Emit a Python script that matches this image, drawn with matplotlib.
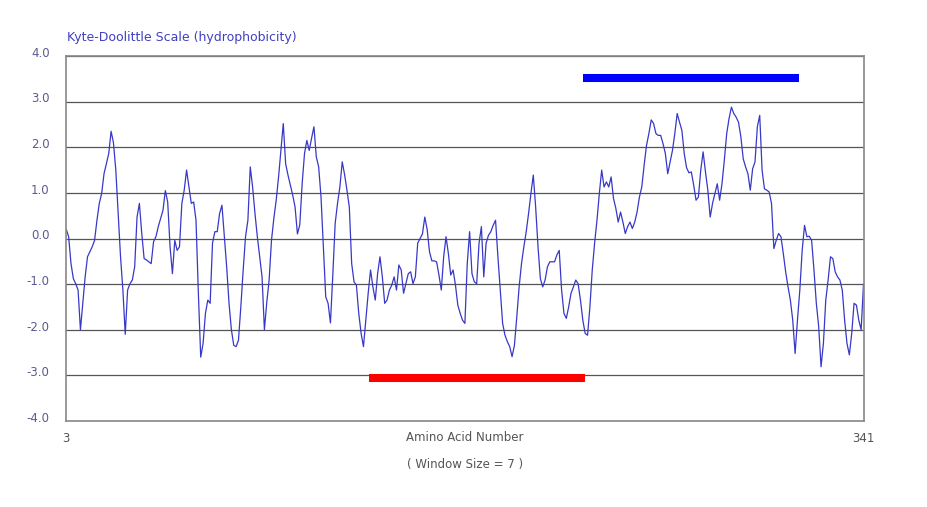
import numpy as np
import matplotlib
matplotlib.use("Agg")
import matplotlib.pyplot as plt
import matplotlib.transforms as mtransforms

# Kyte-Doolittle hydropathy values, one per residue, starting at residue 3
first_residue = 3
hydropathy = [
    0.2, 0.04, -0.55, -0.88, -0.99, -1.13, -2.0, -1.42, -0.84, -0.4,
    -0.29, -0.18, -0.04, 0.4, 0.77, 0.99, 1.42, 1.64, 1.86, 2.35,
    2.1, 1.5, 0.55, -0.4, -1.13, -2.1, -1.13, -0.99, -0.91, -0.62,
    0.47, 0.77, 0.11, -0.44, -0.47, -0.51, -0.55, -0.07, 0.04, 0.26,
    0.44, 0.62, 1.05, 0.8, -0.18, -0.77, -0.04, -0.26, -0.18, 0.77,
    1.06, 1.5, 1.13, 0.77, 0.8, 0.4, -1.2, -2.6, -2.3, -1.64,
    -1.35, -1.42, -0.1, 0.15, 0.15, 0.55, 0.73, 0.04, -0.62, -1.42,
    -2.0, -2.34, -2.37, -2.23, -1.5, -0.69, 0.04, 0.4, 1.57, 1.13,
    0.55, 0.04, -0.4, -0.84, -2.0, -1.4, -0.91, -0.04, 0.44, 0.84,
    1.35, 1.93, 2.52, 1.64, 1.39, 1.17, 0.95, 0.69, 0.1, 0.3,
    1.2, 1.86, 2.15, 1.93, 2.2, 2.45, 1.79, 1.57, 0.91, -0.18,
    -1.28, -1.42, -1.85, -0.8, 0.33, 0.77, 1.13, 1.68, 1.4, 1.06,
    0.69, -0.55, -0.95, -1.02, -1.64, -2.08, -2.37, -1.79, -1.2, -0.69,
    -1.06, -1.35, -0.77, -0.4, -0.84, -1.42, -1.35, -1.13, -1.02, -0.84,
    -1.13, -0.58, -0.69, -1.2, -0.99, -0.77, -0.73, -0.99, -0.84, -0.1,
    0.0, 0.1, 0.47, 0.2, -0.29, -0.49, -0.49, -0.51, -0.8, -1.13,
    -0.4, 0.04, -0.33, -0.8, -0.69, -1.02, -1.46, -1.64, -1.79, -1.86,
    -0.55, 0.15, -0.77, -0.95, -0.99, -0.1, 0.26, -0.84, -0.1, 0.07,
    0.15, 0.29, 0.4, -0.4, -1.13, -1.86, -2.12, -2.26, -2.37, -2.59,
    -2.34, -1.72, -1.06, -0.55, -0.18, 0.15, 0.55, 0.99, 1.39, 0.69,
    -0.18, -0.88, -1.06, -0.91, -0.62, -0.51, -0.51, -0.51, -0.36, -0.26,
    -1.13, -1.64, -1.75, -1.5, -1.2, -1.06, -0.91, -0.99, -1.35, -1.79,
    -2.08, -2.12, -1.5, -0.69, -0.1, 0.4, 0.99, 1.5, 1.13, 1.24,
    1.13, 1.35, 0.88, 0.66, 0.36, 0.58, 0.36, 0.11, 0.26, 0.36,
    0.22, 0.36, 0.58, 0.91, 1.13, 1.61, 2.04, 2.3, 2.6, 2.52,
    2.3, 2.26, 2.26, 2.08, 1.86, 1.42, 1.68, 1.93, 2.3, 2.74,
    2.55, 2.37, 1.86, 1.55, 1.44, 1.46, 1.17, 0.84, 0.91, 1.5,
    1.9, 1.46, 1.06, 0.47, 0.77, 0.99, 1.2, 0.84, 1.2, 1.72,
    2.3, 2.63, 2.88, 2.74, 2.66, 2.55, 2.23, 1.75, 1.57, 1.42,
    1.06, 1.53, 1.68, 2.45, 2.7, 1.5, 1.09, 1.06, 1.02, 0.77,
    -0.22, -0.04, 0.11, 0.04, -0.33, -0.73, -1.06, -1.35, -1.79, -2.52,
    -1.79, -1.13, -0.26, 0.29, 0.04, 0.05, -0.04, -0.69, -1.42, -1.93,
    -2.81, -2.3, -1.35, -0.91, -0.4, -0.44, -0.73, -0.84, -0.91, -1.13,
    -1.79, -2.3, -2.55, -2.08, -1.42, -1.46, -1.79, -2.0, -1.0,
]
residues = np.arange(first_residue, first_residue + len(hydropathy))

# highlighted regions (start residue, end residue, level)
red_region = [131.5, 223.0, -3.06]
blue_region = [222.2, 313.8, 3.52]

y_ticks = [-4, -3, -2, -1, 0, 1, 2, 3, 4]
x_ticks = [3, 341]

fig = plt.figure(figsize=(9.27, 5.07), dpi=100)
ax = fig.add_axes([0.0715, 0.1696, 0.86, 0.7199])

ax.plot(residues, hydropathy, color="#3838c8", lw=0.9)

ax.plot(red_region[:2], [red_region[2]] * 2, color="#ff0000", lw=5.8,
        solid_capstyle="butt", zorder=4)
ax.plot(blue_region[:2], [blue_region[2]] * 2, color="#0000ff", lw=5.8,
        solid_capstyle="butt", zorder=4)

ax.set_xlim(3, 341)
ax.set_ylim(-4, 4)
ax.set_yticks(y_ticks)
ax.set_yticklabels([f"{v:.1f}" for v in y_ticks])
ax.set_xticks(x_ticks)
ax.set_xticklabels([str(v) for v in x_ticks])
ax.grid(axis="y", color="#555555", lw=0.9)
ax.set_axisbelow(True)

for s in ax.spines.values():
    s.set_color("#888888")
    s.set_linewidth(1.2)

ax.tick_params(axis="both", length=0, labelsize=8.5)
ax.tick_params(axis="y", pad=12, labelcolor="#5a5a90")
ax.tick_params(axis="x", pad=8, labelcolor="#555555")

# y labels sit a little above their gridline
offset = mtransforms.ScaledTranslation(0, 3 / 72, fig.dpi_scale_trans)
for lbl in ax.get_yticklabels():
    lbl.set_transform(lbl.get_transform() + offset)

ax.set_xlabel("Amino Acid Number\n( Window Size = 7 )", fontsize=8.5,
              color="#555555", linespacing=2.4, labelpad=-10)

fig.text(67 / 927, 1 - 38 / 507, "Kyte-Doolittle Scale (hydrophobicity)",
         fontsize=9, color="#4040c0", va="center", ha="left")

fig.savefig("out.png", dpi=100, facecolor="white")
